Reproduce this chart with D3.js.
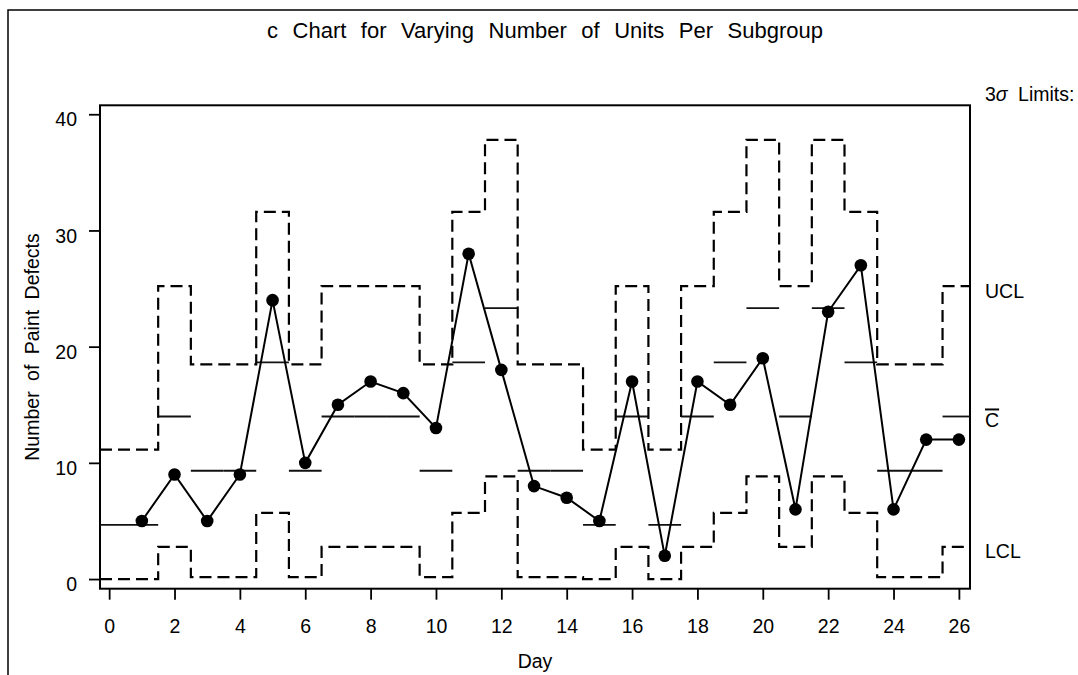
<!DOCTYPE html>
<html>
<head>
<meta charset="utf-8">
<script src="https://cdn.jsdelivr.net/npm/d3@7"></script>
<style>
  body { margin: 0; background: #fff; }
  svg { display: block; font-family: "Liberation Sans", Arial, Helvetica, sans-serif; }
</style>
</head>
<body>
<div class="canvas"></div>
<script>
// subgroup data
const days = [1,2,3,4,5,6,7,8,9,10,11,12,13,14,15,16,17,18,19,20,21,22,23,24,25,26];
const defects = [5,9,5,9,24,10,15,17,16,13,28,18,8,7,5,17,2,17,15,19,6,23,27,6,12,12];
const centerVals = [4.66,13.99,9.32,9.32,18.65,9.32,13.99,13.99,13.99,9.32,18.65,23.31,9.32,9.32,4.66,13.99,4.66,13.99,18.65,23.31,13.99,23.31,18.65,9.32,9.32,13.99];
const uclVals = [11.14,25.21,18.48,18.48,31.60,18.48,25.21,25.21,25.21,18.48,31.60,37.80,18.48,18.48,11.14,25.21,11.14,25.21,31.60,37.80,25.21,37.80,31.60,18.48,18.48,25.21];
const lclVals = [0,2.77,0.16,0.16,5.70,0.16,2.77,2.77,2.77,0.16,5.70,8.83,0.16,0.16,0,2.77,0,2.77,5.70,8.83,2.77,8.83,5.70,0.16,0.16,2.77];
const xTicks = [0,2,4,6,8,10,12,14,16,18,20,22,24,26];
const yTicks = [0,10,20,30,40];

const width = 1078;
const height = 675;
const plot = {left: 100, right: 970, top: 105.3, bottom: 588.7};
const font = '"Liberation Sans", Arial, Helvetica, sans-serif';

const svg = d3.select('.canvas')
  .append('svg')
  .attr('width', width)
  .attr('height', height);

// outer border
svg.append('rect')
  .attr('x', 8).attr('y', 10)
  .attr('width', 1200).attr('height', 800)
  .attr('fill', 'none').attr('stroke', '#000').attr('stroke-width', 1.5);

const x = d3.scaleLinear().domain([-0.28, 26.34]).range([plot.left, plot.right]);
const y = d3.scaleLinear().domain([-0.83, 40.77]).range([plot.bottom, plot.top]);

// title
const title = svg.append('text')
  .attr('x', 545).attr('y', 38)
  .attr('text-anchor', 'middle')
  .style('font-size', '22px')
  .text('c Chart for Varying Number of Units Per Subgroup');
const tw = title.node().getComputedTextLength();
title.style('word-spacing', ((556 - tw) / 8) + 'px');

// axes
const gX = svg.append('g').attr('transform', `translate(0, ${plot.bottom})`)
  .call(d3.axisBottom(x).tickValues(xTicks).tickSize(11).tickPadding(19).tickSizeOuter(0));
const gY = svg.append('g').attr('transform', `translate(${plot.left}, 0)`)
  .call(d3.axisLeft(y).tickValues(yTicks).tickSize(11).tickPadding(12).tickSizeOuter(0));
[gX, gY].forEach(g => {
  g.attr('font-family', font);
  g.select('.domain').remove();
  g.selectAll('line').attr('stroke', '#000').attr('stroke-width', 1.8);
  g.selectAll('text').style('font-size', '19.5px').attr('fill', '#000');
});
gY.selectAll('text').attr('dy', '0.6em');

// frame
svg.append('rect')
  .attr('x', plot.left).attr('y', plot.top)
  .attr('width', plot.right - plot.left).attr('height', plot.bottom - plot.top)
  .attr('fill', 'none').attr('stroke', '#000').attr('stroke-width', 2);

// axis labels
svg.append('text')
  .attr('x', (plot.left + plot.right) / 2).attr('y', 668)
  .attr('text-anchor', 'middle').style('font-size', '19.5px')
  .text('Day');
svg.append('text')
  .attr('transform', `translate(39, ${(plot.top + plot.bottom) / 2}) rotate(-90)`)
  .attr('text-anchor', 'middle').style('font-size', '19.5px').style('word-spacing', '5px')
  .text('Number of Paint Defects');

// stepped control limits
const stepPts = vals => {
  const pts = [];
  vals.forEach((v, i) => {
    const x0 = i === 0 ? x.domain()[0] : days[i] - 0.5;
    const x1 = i === vals.length - 1 ? x.domain()[1] : days[i] + 0.5;
    pts.push([x0, v], [x1, v]);
  });
  return pts;
};
const line = d3.line().x(d => x(d[0])).y(d => y(d[1]));
[uclVals, lclVals].forEach(vals => {
  svg.append('path')
    .attr('d', line(stepPts(vals)))
    .attr('fill', 'none').attr('stroke', '#000')
    .attr('stroke-width', 2.2).attr('stroke-dasharray', '12,6');
});

// center line segments
const cp = stepPts(centerVals);
centerVals.forEach((v, i) => {
  svg.append('path')
    .attr('d', line([cp[2 * i], cp[2 * i + 1]]))
    .attr('fill', 'none').attr('stroke', '#111').attr('stroke-width', 1.8);
});

// data
svg.append('path')
  .attr('d', d3.line().x((d, i) => x(days[i])).y(d => y(d))(defects))
  .attr('fill', 'none').attr('stroke', '#000').attr('stroke-width', 2);
svg.selectAll('circle.pt')
  .data(defects)
  .enter()
  .append('circle')
  .attr('class', 'pt')
  .attr('cx', (d, i) => x(days[i]))
  .attr('cy', d => y(d))
  .attr('r', 6.3)
  .attr('fill', '#000');

// limit labels on the right
const last = centerVals.length - 1;
const lbl = svg.append('g').style('font-size', '19.5px');
const sig = lbl.append('text').attr('x', 985).attr('y', 101).style('word-spacing', '5px');
sig.append('tspan').text('3');
sig.append('tspan').style('font-style', 'italic').text('σ');
sig.append('tspan').text(' Limits:');
lbl.append('text').attr('x', 985).attr('y', y(uclVals[last]) + 12).text('UCL');
lbl.append('text').attr('x', 985).attr('y', y(centerVals[last]) + 11)
  .style('text-decoration', 'overline').text('C');
lbl.append('text').attr('x', 985).attr('y', y(lclVals[last]) + 11).text('LCL');
</script>
</body>
</html>
